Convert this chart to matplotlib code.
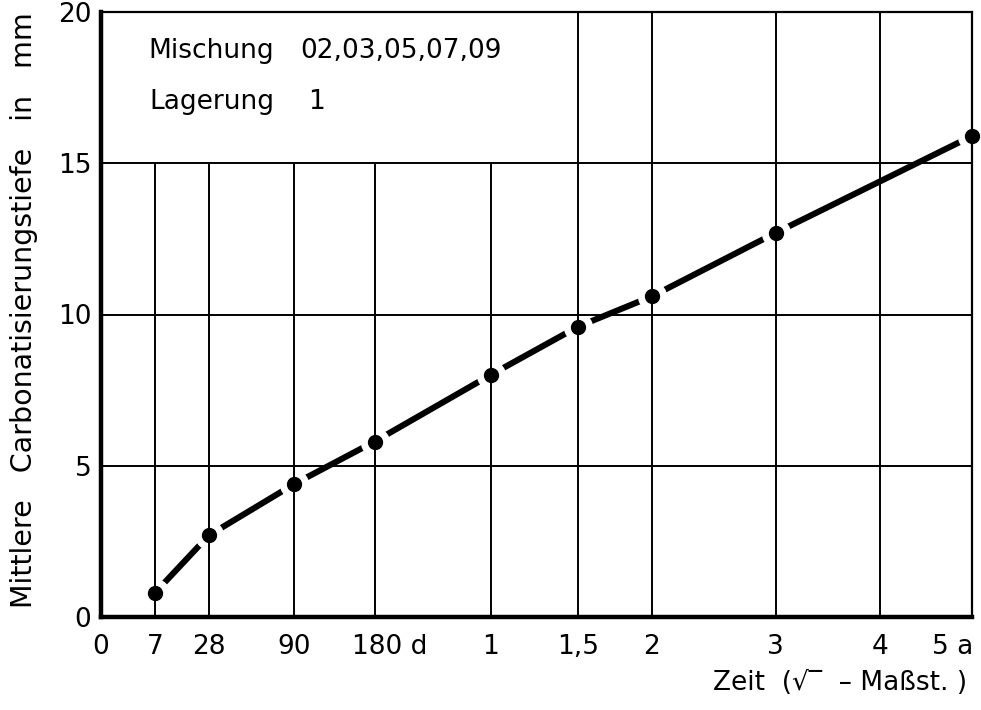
import numpy as np
import matplotlib
matplotlib.use("Agg")
import matplotlib.pyplot as plt
from matplotlib.transforms import ScaledTranslation

# ---- data ----
days = [7, 28, 90, 180, 365, 547.5, 730, 1095, 1825]
depth_mm = [0.8, 2.7, 4.4, 5.8, 8.0, 9.6, 10.6, 12.7, 15.9]

xtick_pos = [0, 7, 28, 90, 180, 365, 547.5, 730, 1095, 1460, 1825]
xtick_labels = ["0", "7", "28", "90", "180 d", "1", "1,5", "2", "3", "4", "5 a"]
ytick_pos = [0, 5, 10, 15, 20]
ytick_labels = ["0", "5", "10", "15", "20"]

vgrid_low = [7, 28, 90, 180, 365]          # end at 15 mm (text box above)
vgrid_full = [547.5, 730, 1095, 1460]      # full height
hgrid = [5, 10, 15]

plt.rcParams['font.family'] = ['DejaVu Sans']
FS = 19

fig = plt.figure(figsize=(9.81, 7.10), dpi=100)
ax = fig.add_axes([101/981, 93/710, 871/981, 605/710])

fwd = lambda x: np.sqrt(np.clip(x, 0, None))
inv = lambda x: np.square(x)
ax.set_xscale('function', functions=(fwd, inv))
ax.set_xlim(0, 1825)
ax.set_ylim(0, 20)

# grid
ax.vlines(vgrid_low, 0, 15, colors='black', lw=1.4, zorder=4)
ax.vlines(vgrid_full, 0, 20, colors='black', lw=1.4, zorder=4)
ax.hlines(hgrid, 0, 1825, colors='black', lw=1.4, zorder=4)

# curve
ax.plot(days, depth_mm, color='black', lw=4.4, solid_capstyle='butt', zorder=2)
ax.plot(days, depth_mm, 'o', color='white', ms=20, mec='white', zorder=3)
ax.plot(days, depth_mm, 'o', color='black', ms=10, zorder=5, clip_on=False)

# spines
for s in ['left', 'bottom']:
    ax.spines[s].set_linewidth(3.2)
for s in ['top', 'right']:
    ax.spines[s].set_linewidth(1.6)
for s in ax.spines.values():
    s.set_zorder(6)

ax.set_xticks(xtick_pos)
ax.set_xticklabels(xtick_labels, fontsize=FS)
ax.set_yticks(ytick_pos)
ax.set_yticklabels(ytick_labels, fontsize=FS)
ax.tick_params(axis='both', length=0)
ax.tick_params(axis='x', pad=12)
ax.tick_params(axis='y', pad=7)
ax.minorticks_off()

# shift some labels like the original
offsets = {"180 d": 15/100, "5 a": -19/100}
for lab in ax.get_xticklabels():
    t = lab.get_text()
    if t in offsets:
        lab.set_transform(lab.get_transform() + ScaledTranslation(offsets[t], 0, fig.dpi_scale_trans))

# text block
ax.text(0.054, 0.935, "Mischung", transform=ax.transAxes, fontsize=FS, va='center', ha='left')
ax.text(0.229, 0.935, "02,03,05,07,09", transform=ax.transAxes, fontsize=FS, va='center', ha='left')
ax.text(0.056, 0.852, "Lagerung", transform=ax.transAxes, fontsize=FS, va='center', ha='left')
ax.text(0.238, 0.852, "1", transform=ax.transAxes, fontsize=FS, va='center', ha='left')

fig.text(24/981, 1 - 310/710, "Mittlere   Carbonatisierungstiefe   in   mm",
         rotation=90, ha='center', va='center', fontsize=20.5)
fig.text(967/981, 1 - 683/710, "Zeit  (√‾  – Maßst. )", ha='right', va='center', fontsize=FS)

fig.savefig("out.png", dpi=100, facecolor='white')
